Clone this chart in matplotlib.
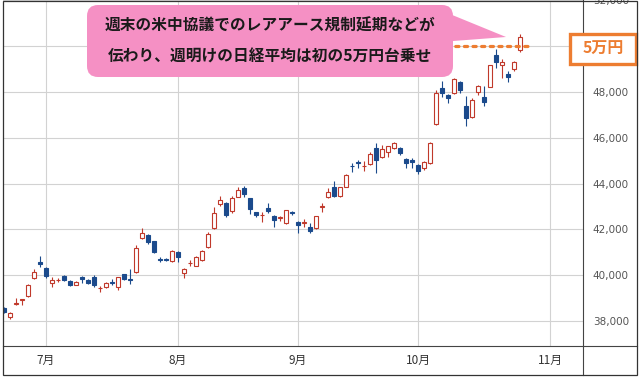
import matplotlib
matplotlib.use('Agg')
import matplotlib.pyplot as plt
from matplotlib.patches import FancyBboxPatch, Polygon, Rectangle
from matplotlib.lines import Line2D
import numpy as np

plt.rcParams['font.family'] = ['Noto Sans CJK JP', 'DejaVu Sans']

# Nikkei 225 daily candles (Jun 20 - Oct 27)
dates = ['06/20', '06/23', '06/24', '06/25', '06/26', '06/27', '06/30',
         '07/01', '07/02', '07/03', '07/04', '07/07', '07/08', '07/09', '07/10', '07/11',
         '07/14', '07/15', '07/16', '07/17', '07/18', '07/22', '07/23', '07/24', '07/25',
         '07/28', '07/29', '07/30', '07/31',
         '08/01', '08/04', '08/05', '08/06', '08/07', '08/08', '08/12', '08/13', '08/14',
         '08/15', '08/18', '08/19', '08/20', '08/21', '08/22', '08/25', '08/26', '08/27',
         '08/28', '08/29',
         '09/01', '09/02', '09/03', '09/04', '09/05', '09/08', '09/09', '09/10', '09/11',
         '09/12', '09/16', '09/17', '09/18', '09/19', '09/22', '09/24', '09/25', '09/26',
         '09/29', '09/30',
         '10/01', '10/02', '10/03', '10/06', '10/07', '10/08', '10/09', '10/10', '10/14',
         '10/15', '10/16', '10/17', '10/20', '10/21', '10/22', '10/23', '10/24', '10/27']

opens = [38560, 38180, 38760, 38900, 39090, 39880, 40560,
         40310, 39670, 39770, 39960, 39750, 39590, 39920, 39800, 39920,
         39440, 39490, 39700, 39500, 40040, 39830, 40150, 41640, 41750,
         41480, 40710, 40690, 40620,
         41010, 40100, 40520, 40400, 40660, 41230, 42060, 43090, 43140,
         42800, 43430, 43800, 43370, 42760, 42620, 42930, 42590, 42500,
         42300, 42760,
         42330, 42280, 42100, 42060, 42980, 43420, 43850, 43470, 43860,
         44790, 44930, 44770, 44860, 45550, 45160, 45400, 45560, 45560,
         45080, 45030,
         44800, 44700, 44900, 46600, 48170, 47870, 47960, 48440, 47390,
         46910, 48000, 47780, 48220, 49620, 49200, 48790, 49000, 49850]

highs = [38600, 38380, 38990, 38960, 39600, 40270, 40850,
         40350, 39930, 39860, 39990, 39770, 39760, 39960, 39830, 39990,
         39530, 39700, 39830, 39920, 40060, 40270, 41320, 42065, 41780,
         41500, 40790, 40730, 41080,
         41050, 40300, 40650, 40830, 41100, 41900, 42999, 43450, 43180,
         43450, 43870, 43900, 43380, 42780, 42760, 43150, 42610, 42600,
         42850, 42800,
         42350, 42450, 42280, 42600, 43150, 43800, 44110, 43850, 44400,
         44900, 45030, 45000, 45400, 45770, 45690, 45650, 45800, 45600,
         45120, 45100,
         44850, 45000, 45800, 48090, 48500, 47900, 48600, 48500, 47830,
         47750, 48300, 48250, 49200, 49880, 49440, 48900, 49350, 50550]

lows = [38350, 38090, 38700, 38700, 39050, 39850, 40350,
        39880, 39500, 39720, 39760, 39550, 39560, 39660, 39620, 39480,
        39270, 39460, 39570, 39350, 39800, 39610, 40100, 41600, 41380,
        40960, 40580, 40620, 40580,
        40580, 39860, 40420, 40380, 40640, 41180, 42000, 43030, 42560,
        42700, 43400, 43420, 42690, 42520, 42330, 42710, 42100, 42380,
        42250, 42650,
        41840, 42100, 41840, 42000, 42760, 43350, 43400, 43420, 43830,
        44510, 44680, 44550, 44800, 44460, 45100, 45160, 45500, 45250,
        44700, 44700,
        44400, 44600, 44850, 46550, 47800, 47520, 47900, 47970, 46520,
        46850, 47870, 47400, 48200, 49050, 48610, 48450, 48900, 49750]

closes = [38400, 38354, 38790, 38942, 39584, 40150, 40487,
          39986, 39780, 39785, 39810, 39587, 39700, 39821, 39646, 39569,
          39459, 39678, 39663, 39901, 39819, 39774, 41171, 41826, 41456,
          40998, 40674, 40654, 41069,
          40799, 40290, 40549, 40794, 41059, 41820, 42718, 43274, 42649,
          43378, 43714, 43546, 42888, 42610, 42633, 42807, 42394, 42520,
          42829, 42718,
          42188, 42310, 41938, 42580, 43018, 43643, 43459, 43837, 44372,
          44768, 44902, 44790, 45303, 45045, 45493, 45630, 45754, 45354,
          44913, 44932,
          44550, 44936, 45769, 47944, 47950, 47734, 48580, 48088, 46847,
          47672, 48277, 47582, 49185, 49316, 49307, 48641, 49299, 50400]

month_labels = ['7月', '8月', '9月', '10月', '11月']
month_pos = [7, 29, 49, 69, 91]   # trading-day index of first session of each month
y_ticks = [38000, 40000, 42000, 44000, 46000, 48000, 50000, 52000]
y_labels = ['38,000', '40,000', '42,000', '44,000', '46,000', '48,000', '', '52,000']
line_level = 50000
callout_lines = ['週末の米中協議でのレアアース規制延期などが',
                 '伝わり、週明けの日経平均は初の5万円台乗せ']
badge_text = '5万円'

RED = '#c0392b'
BLUE = '#1b4a8c'
ORANGE = '#ed7d31'
PINK = '#f590c4'

W, H = 640, 378
fig = plt.figure(figsize=(W / 100, H / 100), dpi=100)
fig.patch.set_facecolor('white')

ax = fig.add_axes([3 / W, (H - 346) / H, 580 / W, 346 / H])
ax.set_facecolor('white')

x = np.arange(len(opens))
o = np.array(opens, float)
c = np.array(closes, float)
hi = np.array(highs, float)
lo = np.array(lows, float)
up = c >= o

# wicks
ax.vlines(x[up], lo[up], hi[up], color=RED, lw=0.8, zorder=3)
ax.vlines(x[~up], lo[~up], hi[~up], color=BLUE, lw=0.8, zorder=3)
# bodies
bottom = np.minimum(o, c)
height = np.maximum(np.abs(c - o), 15)
ax.bar(x[up], height[up], bottom=bottom[up], width=0.64, facecolor='white',
       edgecolor=RED, linewidth=0.8, zorder=4)
ax.bar(x[~up], height[~up], bottom=bottom[~up], width=0.64, facecolor=BLUE,
       edgecolor=BLUE, linewidth=0.8, zorder=4)

# 50,000 dotted line
ax.plot([72.3, 87.5], [line_level, line_level], color=ORANGE, lw=2.3,
        linestyle=(0, (1, 1.7)), dash_capstyle='round', zorder=5, clip_on=False)

ax.set_xlim(-0.17, 96.5)
ax.set_ylim(36908, 52018)
ax.set_xticks(month_pos)
ax.set_xticklabels(month_labels)
ax.set_yticks(y_ticks)
ax.set_yticklabels(y_labels)
ax.yaxis.tick_right()
ax.tick_params(axis='y', length=0, pad=7, labelsize=7.5, labelcolor='#555555')
ax.tick_params(axis='x', length=0, pad=6, labelsize=8.5, labelcolor='#333333')
for lab in ax.get_yticklabels():
    lab.set_family(['DejaVu Sans'])
ax.grid(True, color='#d2d2d2', lw=0.8, zorder=0)
ax.set_axisbelow(True)
for s in ['top', 'left']:
    ax.spines[s].set_visible(False)
for s in ['right', 'bottom']:
    ax.spines[s].set_color('#444444')
    ax.spines[s].set_linewidth(0.8)

tr = fig.dpi_scale_trans  # inches; pixel/100


def P(px, py):
    return (px / 100, (H - py) / 100)


# outer frame
fig.patches.append(Rectangle(P(3, 375), 634 / 100, 374 / 100, transform=tr,
                             fill=False, ec='#333333', lw=0.9, zorder=10))
# extra separator lines
fig.lines.append(Line2D([583 / 100, 583 / 100], [(H - 346) / 100, (H - 375) / 100],
                        transform=tr, color='#444444', lw=0.8))
fig.lines.append(Line2D([583 / 100, 637 / 100], [(H - 346) / 100, (H - 346) / 100],
                        transform=tr, color='#444444', lw=0.8))

# callout
fig.patches.append(Polygon([P(440, 10), P(506, 37), P(440, 42)], closed=True,
                           transform=tr, fc=PINK, ec='none', zorder=6))
fig.patches.append(FancyBboxPatch(P(87, 77), 366 / 100, 72 / 100,
                                  boxstyle='round,pad=0,rounding_size=0.11',
                                  transform=tr, fc=PINK, ec='none', zorder=6))
fig.text(270 / W, 1 - 26 / H, callout_lines[0], ha='center', va='center',
         fontsize=11.3, fontweight='bold', color='#1a1a1a', zorder=7)
fig.text(270 / W, 1 - 57 / H, callout_lines[1], ha='center', va='center',
         fontsize=11.3, fontweight='bold', color='#1a1a1a', zorder=7)

# 5万円 badge
fig.patches.append(Rectangle(P(570, 64), 66 / 100, 30 / 100, transform=tr,
                             fc='white', ec=ORANGE, lw=2.4, zorder=8))
fig.text(603 / W, 1 - 49 / H, badge_text, ha='center', va='center',
         fontsize=11.5, fontweight='bold', color=ORANGE, zorder=9)

fig.savefig('out.png', dpi=100, facecolor='white')
